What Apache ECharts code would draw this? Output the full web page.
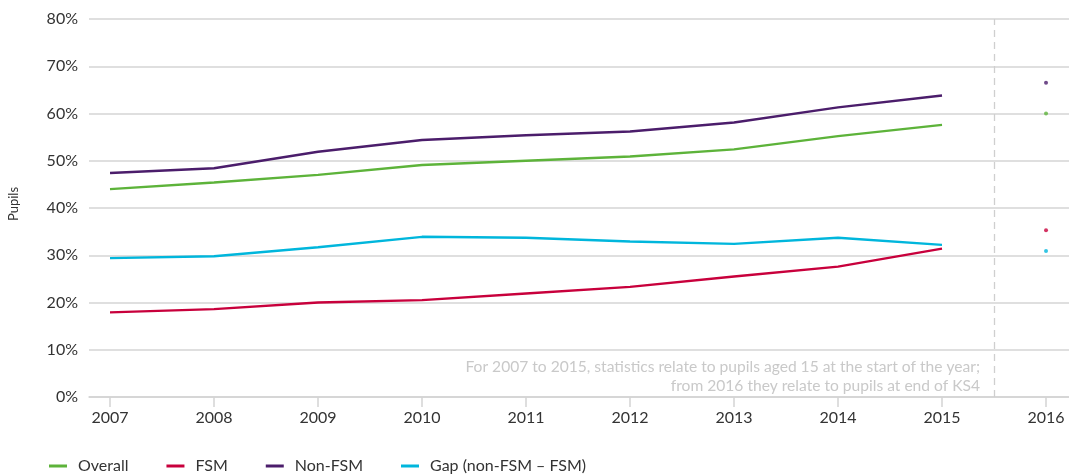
<!DOCTYPE html>
<html>
<head>
<meta charset="utf-8">
<script src="https://cdn.jsdelivr.net/npm/echarts@6/dist/echarts.min.js"></script>
<style>html,body{margin:0;padding:0;background:#fff}#c{width:1069px;height:475px}</style>
</head>
<body>
<div id="c"></div>
<script>
const years = [2007, 2008, 2009, 2010, 2011, 2012, 2013, 2014, 2015];
const tickYears = [2007, 2008, 2009, 2010, 2011, 2012, 2013, 2014, 2015, 2016];
const overall = [44.0, 45.4, 47.0, 49.1, 50.0, 50.9, 52.4, 55.2, 57.6];
const fsm = [17.9, 18.6, 20.0, 20.5, 21.9, 23.3, 25.5, 27.6, 31.4];
const nonFsm = [47.4, 48.4, 51.9, 54.4, 55.4, 56.2, 58.1, 61.3, 63.8];
const gap = [29.4, 29.8, 31.7, 33.9, 33.7, 32.9, 32.4, 33.7, 32.2];
const year2016 = 2016;
const overall2016 = 60.0;
const fsm2016 = 35.3;
const nonFsm2016 = 66.5;
const gap2016 = 30.9;
const breakYear = 2015.5;
const noteLine1 = 'For 2007 to 2015, statistics relate to pupils aged 15 at the start of the year;';
const noteLine2 = 'from 2016 they relate to pupils at end of KS4';

const C = {overall:'#5db33a', fsm:'#c8003c', nonFsm:'#4b1d6b', gap:'#00b6dc'};
const FONT = 'Lato, "Open Sans", sans-serif';

function pts(arr){ return years.map((y,i)=>[y, arr[i]]); }
function lineSeries(name, arr, color, extra){
  return Object.assign({
    name, type:'line', data: pts(arr), showSymbol:false, symbol:'none',
    lineStyle:{color, width:2.4}, itemStyle:{color}, z:3, animation:false
  }, extra||{});
}
function dot(name, v, color){
  return {name: name+' 2016', type:'scatter', data:[[year2016, v]], symbolSize:4,
    itemStyle:{color}, animation:false, z:4};
}

const chart = echarts.init(document.getElementById('c'), null, {renderer:'canvas'});
chart.setOption({
  animation:false,
  textStyle:{fontFamily:FONT},
  grid:{left:89, right:0, top:19, bottom:78},
  xAxis:{
    type:'value', min:2006.798, max:2016.221,
    axisLine:{show:true, lineStyle:{color:'#d4d4d4', width:1.5}},
    axisTick:{show:true, customValues:tickYears, length:10, lineStyle:{color:'#d4d4d4', width:1.5}},
    axisLabel:{customValues:tickYears, color:'#333', fontSize:16, margin:13, fontFamily:FONT, formatter:v=>String(Math.round(v))},
    splitLine:{show:false}
  },
  yAxis:{
    type:'value', min:0, max:80, interval:10,
    axisLine:{show:false}, axisTick:{show:false},
    axisLabel:{formatter:'{value}%', color:'#333', fontSize:16, margin:11, fontFamily:FONT},
    splitLine:{lineStyle:{color:'#d4d4d4', width:1.5}}
  },
  legend:{
    left:44, bottom:-4, itemWidth:18, itemHeight:3, itemGap:38, icon:'rect',
    textStyle:{color:'#333', fontSize:16, fontFamily:FONT, padding:[0,0,0,6]},
    data:['Overall','FSM','Non-FSM','Gap (non-FSM – FSM)']
  },
  series:[
    lineSeries('Overall', overall, C.overall, {
      markLine:{silent:true, symbol:['none','none'], label:{show:false},
        lineStyle:{type:[7,5], color:'#cfcfcf', width:1.3},
        data:[{xAxis:breakYear}]}
    }),
    lineSeries('FSM', fsm, C.fsm),
    lineSeries('Non-FSM', nonFsm, C.nonFsm),
    lineSeries('Gap (non-FSM – FSM)', gap, C.gap),
    dot('Overall', overall2016, C.overall),
    dot('FSM', fsm2016, C.fsm),
    dot('Non-FSM', nonFsm2016, C.nonFsm),
    dot('Gap', gap2016, C.gap)
  ],
  graphic:[
    {type:'text', x:980, y:367, style:{text:noteLine1, align:'right', verticalAlign:'middle', fill:'#c9c9c9', font:'15.6px '+FONT}},
    {type:'text', x:980, y:386, style:{text:noteLine2, align:'right', verticalAlign:'middle', fill:'#c9c9c9', font:'15.6px '+FONT}},
    {type:'text', x:14, y:204, rotation:Math.PI/2, style:{text:'Pupils', align:'center', verticalAlign:'middle', fill:'#333', font:'13px '+FONT}}
  ]
});
</script>
</body>
</html>
